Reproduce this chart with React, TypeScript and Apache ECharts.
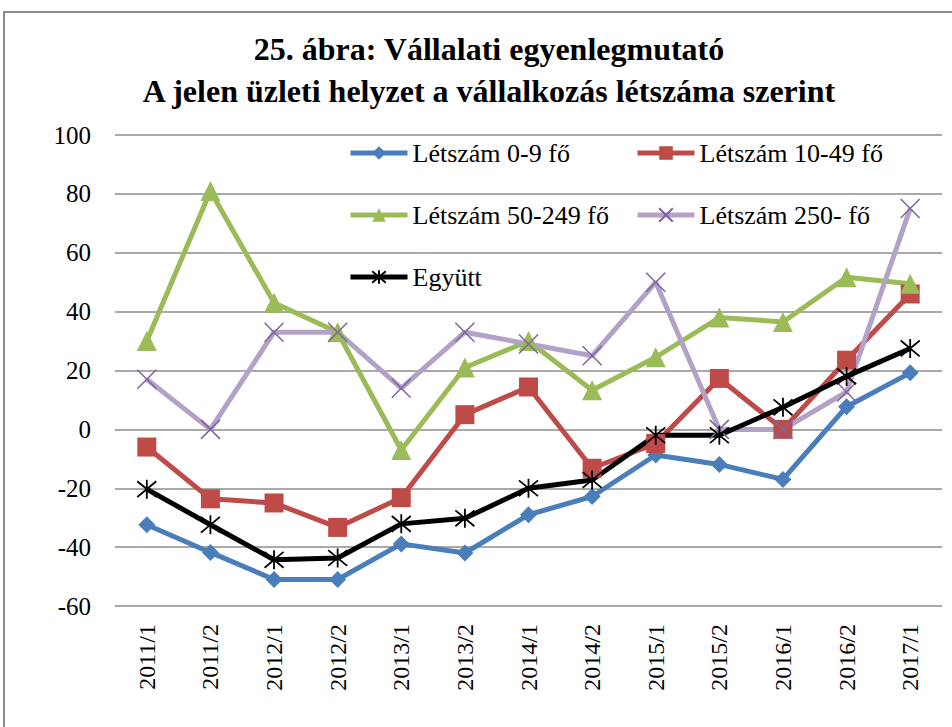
import React, { useEffect, useRef } from "react";
import * as echarts from "echarts";

const categories = ["2011/1", "2011/2", "2012/1", "2012/2", "2013/1", "2013/2", "2014/1", "2014/2", "2015/1", "2015/2", "2016/1", "2016/2", "2017/1"];
const seriesNames = ["Létszám 0-9 fő", "Létszám 10-49 fő", "Létszám 50-249 fő", "Létszám 250- fő", "Együtt"];
const s0_9 = [-32.4, -41.8, -51, -51, -38.9, -42, -29, -22.8, -8.7, -11.9, -17, 7.7, 19.2];
const s10_49 = [-6, -23.6, -25, -33.3, -23.2, 5, 14.4, -13.2, -4.8, 17.3, 0, 23.5, 46];
const s50_249 = [30, 81, 43, 33, -7, 21, 30, 13.3, 24.5, 38, 36.5, 51.7, 49.5];
const s250 = [17, 0, 33, 33, 14, 33, 29, 25, 50, 0, 0, 12.7, 75];
const sTotal = [-20.3, -32.4, -44.3, -43.7, -32.1, -30.2, -20, -17.2, -2, -2, 7.5, 18, 27.5];
const yTicks = { min: -60, max: 100, interval: 20 };

const FAMILY = "Liberation Serif";
const X_SYMBOL = "path://M0,0L10,10M10,0L0,10";
const STAR_SYMBOL = "path://M0,0L10,10M10,0L0,10M5,-1L5,11";

export default function App() {
  const ref = useRef<HTMLDivElement>(null);
  useEffect(() => {
    const chart = echarts.init(ref.current!, null, { renderer: "svg" });
    const legendText = { fontFamily: FAMILY, fontSize: 26, color: "#000" };
    const mkLegend = (name: string, left: number, top: number) => ({
      data: [name],
      left,
      top,
      itemWidth: 57,
      itemHeight: 17,
      itemGap: 4,
      textStyle: legendText,
      lineStyle: { width: 5 },
      selectedMode: false,
      padding: 0,
    });
    const mkSeries = (name: string, data: number[], color: string, lineColor: string, symbol: string, size: number, extra: any = {}) => ({
      name,
      type: "line",
      data,
      symbol,
      symbolSize: size,
      showAllSymbol: true,
      lineStyle: { color: lineColor, width: 5 },
      itemStyle: { color, borderColor: color, borderWidth: 0, ...extra },
      emphasis: { disabled: true },
    });
    chart.setOption({
      animation: false,
      backgroundColor: "#fff",
      graphic: [
        { type: "rect", shape: { x: 4, y: 12, width: 960, height: 730 }, style: { fill: "none", stroke: "#8a8a8a", lineWidth: 2 }, silent: true },
        { type: "text", x: 489, y: 49, style: { text: "25. ábra: Vállalati egyenlegmutató", fontFamily: FAMILY, fontWeight: "bold", fontSize: 32, fill: "#000", textAlign: "center", textVerticalAlign: "middle" } },
        { type: "text", x: 489, y: 91, style: { text: "A jelen üzleti helyzet a vállalkozás létszáma szerint", fontFamily: FAMILY, fontWeight: "bold", fontSize: 32, fill: "#000", textAlign: "center", textVerticalAlign: "middle" } },
      ],
      legend: [
        mkLegend(seriesNames[0], 348, 140),
        mkLegend(seriesNames[1], 635, 140),
        mkLegend(seriesNames[2], 348, 202),
        mkLegend(seriesNames[3], 635, 202),
        mkLegend(seriesNames[4], 348, 264),
      ],
      grid: { left: 115, right: 10, top: 135, bottom: 121, containLabel: false },
      xAxis: {
        type: "category",
        data: categories,
        boundaryGap: true,
        axisLine: { show: false },
        axisTick: { show: false },
        axisLabel: { rotate: 90, margin: 18, fontFamily: FAMILY, fontSize: 24, color: "#000", interval: 0 },
      },
      yAxis: {
        type: "value",
        min: yTicks.min,
        max: yTicks.max,
        interval: yTicks.interval,
        axisLine: { show: false },
        axisTick: { show: false },
        axisLabel: { margin: 24, fontFamily: FAMILY, fontSize: 25, color: "#000" },
        splitLine: { lineStyle: { color: "#8c8c8c", width: 1.5 } },
      },
      series: [
        mkSeries(seriesNames[0], s0_9, "#4a7ebb", "#4a7ebb", "diamond", 17),
        mkSeries(seriesNames[1], s10_49, "#be4b48", "#be4b48", "rect", 19),
        mkSeries(seriesNames[2], s50_249, "#9bbb59", "#9bbb59", "triangle", 20),
        mkSeries(seriesNames[3], s250, "#7f63a2", "#b3a2c7", X_SYMBOL, 19, { borderWidth: 1.5, color: "none" }),
        mkSeries(seriesNames[4], sTotal, "#000000", "#000000", STAR_SYMBOL, 19, { borderWidth: 1.8, color: "none" }),
      ],
    });
    return () => chart.dispose();
  }, []);
  return <div ref={ref} style={{ position: "fixed", left: 0, top: 0, width: 952, height: 727 }} />;
}
